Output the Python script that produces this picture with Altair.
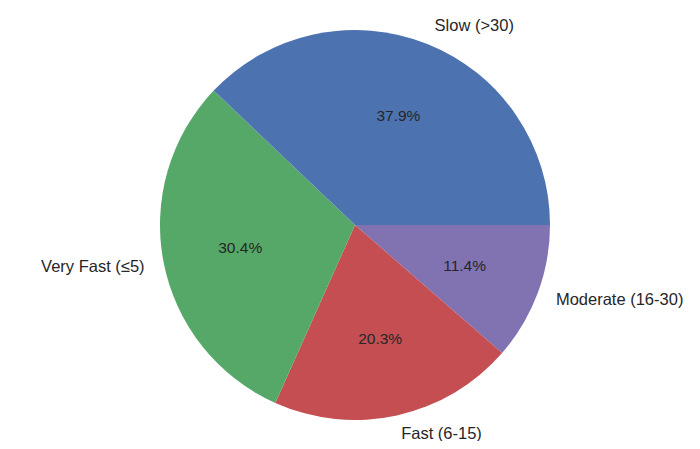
import math
import altair as alt
import pandas as pd

labels = ["Moderate (16-30)", "Fast (6-15)", "Very Fast (≤5)", "Slow (>30)"]
percents = [11.4, 20.3, 30.4, 37.9]
colors = ["#8172B2", "#C44E52", "#55A868", "#4C72B0"]
sides = ["left", "left", "right", "left"]

df = pd.DataFrame({
    "label": labels,
    "pct": percents,
    "order": list(range(len(labels))),
    "side": sides,
})

theta_scale = alt.Scale(domain=[0, 100], range=[math.pi / 2, math.pi / 2 + 2 * math.pi])
color_scale = alt.Scale(domain=labels, range=colors)

CX, CY = 347, 217
R = 195
FONT = "Liberation Sans"

base = alt.Chart(df).transform_window(
    cum="sum(pct)", sort=[alt.SortField("order")], frame=[None, 0]
).transform_calculate(
    start="datum.cum - datum.pct",
    mid="datum.cum - datum.pct / 2",
    pct_text="format(datum.pct, '.1f') + '%'",
)

arcs = base.mark_arc(radius=R, strokeWidth=0).encode(
    theta=alt.Theta("start:Q", scale=theta_scale),
    theta2="cum:Q",
    color=alt.Color("label:N", scale=color_scale, legend=None),
    x=alt.value(CX),
    y=alt.value(CY),
)

pct_text = base.mark_text(
    radius=R * 0.6, font=FONT, fontSize=15.5, color="#262626", align="center", baseline="middle"
).encode(
    theta=alt.Theta("mid:Q", scale=theta_scale),
    text="pct_text:N",
    x=alt.value(CX),
    y=alt.value(CY),
)

lab_left = base.transform_filter("datum.side == 'left'").mark_text(
    radius=R * 1.1, font=FONT, fontSize=16.5, color="#262626", align="left", baseline="middle"
).encode(
    theta=alt.Theta("mid:Q", scale=theta_scale),
    text="label:N",
    x=alt.value(CX),
    y=alt.value(CY),
)

lab_right = base.transform_filter("datum.side == 'right'").mark_text(
    radius=R * 1.1, font=FONT, fontSize=16.5, color="#262626", align="right", baseline="middle"
).encode(
    theta=alt.Theta("mid:Q", scale=theta_scale),
    text="label:N",
    x=alt.value(CX),
    y=alt.value(CY),
)

chart = alt.layer(arcs, pct_text, lab_left, lab_right).properties(
    width=684, height=433, autosize=alt.AutoSizeParams(type="none"), padding=0
).configure_view(stroke=None)

chart.save("out.html", embed_options={"renderer": "svg", "actions": False})
